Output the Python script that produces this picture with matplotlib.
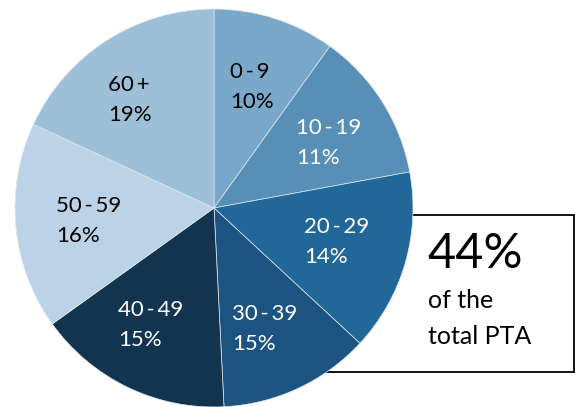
import matplotlib.pyplot as plt
from matplotlib.patches import Rectangle

# -------------------------
# DATA
# -------------------------
groups = ["0-9", "10-19", "20-29", "30-39", "40-49", "50-59", "60+"]
shares = [10, 11, 14, 15, 15, 16, 19]                       # printed labels
wedge_sizes = [9.9, 12.2, 14.8, 12.3, 15.9, 16.8, 18.1]    # as drawn in the picture
colors = ["#7aa8c9", "#578fb6", "#216899", "#1c5380", "#13344f", "#bcd2e6", "#9dbfd8"]
text_colors = ["black", "white", "white", "white", "white", "black", "black"]
# label anchor (left, top line y) in pixels, top-left origin
label_pos = [(230, 72), (296, 128), (304, 227), (232, 314), (118, 310), (56, 206), (108, 85)]
highlight = "44%"
highlight_sub = ["of the", "total PTA"]

W, H = 575, 407
font = "Lato"

fig = plt.figure(figsize=(W / 100, H / 100), dpi=100)
ax = fig.add_axes([0, 0, 1, 1])

# callout box behind the pie
ax.add_patch(Rectangle((320, H - 372), 254, 157, facecolor="white",
                       edgecolor="black", linewidth=1.3, zorder=1))

wedges, _ = ax.pie(wedge_sizes, colors=colors, startangle=90, counterclock=False,
                   center=(214, H - 208), radius=199,
                   wedgeprops=dict(edgecolor="#dfe8f0", linewidth=0.5))
for w in wedges:
    w.set_zorder(2)

for g, s, (x, y), c in zip(groups, shares, label_pos, text_colors):
    name = g.replace("-", "\u2009-\u2009").replace("+", "\u2009+")
    ax.text(x, H - y, name, color=c, fontsize=16, family=font,
            va="center", ha="left", zorder=3)
    ax.text(x, H - y - 30, f"{s}%", color=c, fontsize=16, family=font,
            va="center", ha="left", zorder=3)

ax.text(427, H - 254, highlight, fontsize=35, family=font,
        va="center", ha="left", zorder=3)
ax.text(428, H - 300, highlight_sub[0], fontsize=18, family=font,
        va="center", ha="left", zorder=3)
ax.text(428, H - 337, highlight_sub[1], fontsize=18, family=font,
        va="center", ha="left", zorder=3)

# pie() resets the limits, so set them afterwards
ax.set_xlim(0, W)
ax.set_ylim(0, H)
ax.set_aspect("equal")
ax.axis("off")

fig.savefig("out.png", dpi=100)
